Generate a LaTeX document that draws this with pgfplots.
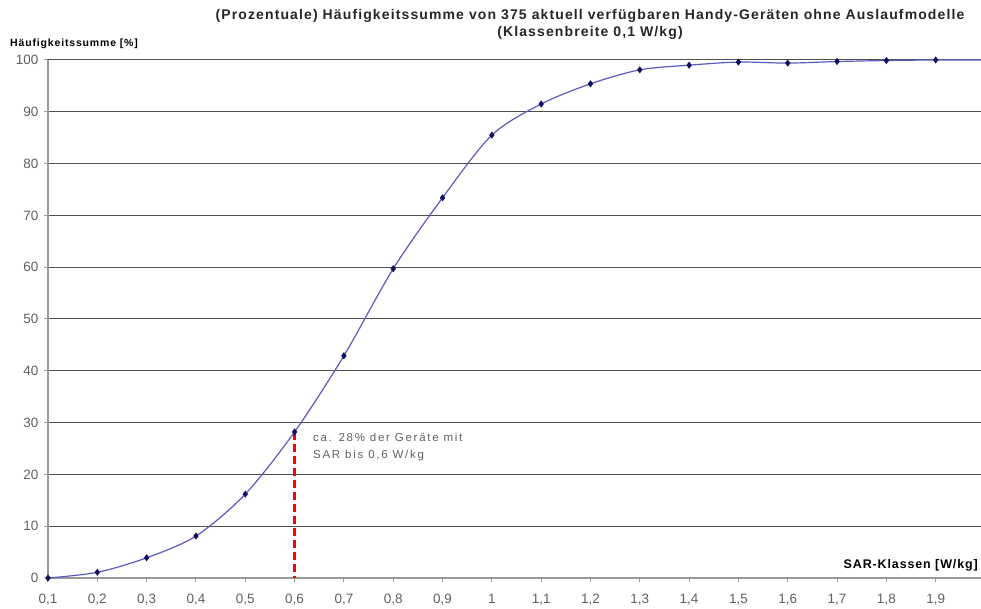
\documentclass[border=0pt]{standalone}
\usepackage{pgfplots}
\pgfplotsset{compat=1.18}
\usepackage{fontspec}
\setmainfont{Liberation Sans}
\newfontfamily\wideA[LetterSpace=8]{Liberation Sans}
\newfontfamily\wideB[LetterSpace=8]{Liberation Sans}
\newfontfamily\wideX[LetterSpace=7]{Liberation Sans}
\newfontfamily\wideC[LetterSpace=15]{Liberation Sans}
\definecolor{gridc}{HTML}{505050}
\definecolor{axc}{HTML}{9A9A9A}
\definecolor{linec}{HTML}{5A5AC0}
\definecolor{markc}{HTML}{101060}
\definecolor{tickc}{HTML}{606060}
\begin{document}
\begin{tikzpicture}[x=1pt,y=1pt]
\clip (-48,-31) rectangle (933,578);
\begin{axis}[
  at={(0,0)}, anchor=south west,
  scale only axis, width=937pt, height=518pt,
  xmin=0.1, xmax=2.0, ymin=0, ymax=100,
  xtick={0.1,0.2,0.3,0.4,0.5,0.6,0.7,0.8,0.9,1.0,1.1,1.2,1.3,1.4,1.5,1.6,1.7,1.8,1.9,2.0},
  ytick={0,10,...,100},
  ymajorgrids, major grid style={gridc, line width=1pt},
  axis x line*=bottom, axis y line*=left,
  axis line style={axc, line width=2pt, -},
  tick style={axc, line width=1pt},
  tick align=outside, major tick length=4pt,
  /pgf/number format/use comma,
  /pgf/number format/assume math mode=true,
  ticklabel style={font=\fontsize{13.5}{15}\selectfont, text=tickc},
  xticklabel style={yshift=-9pt},
  yticklabel style={xshift=-2pt},
  clip=false,
]
\addplot[linec, line width=1.2pt, smooth, tension=0.5, mark=diamond*, mark size=2.6pt,
  mark options={fill=markc, draw=markc}] coordinates {
  (0.1,0) (0.2,1.1) (0.3,3.9) (0.4,8.1) (0.5,16.2) (0.6,28.2) (0.7,42.9)
  (0.8,59.7) (0.9,73.4) (1.0,85.5) (1.1,91.5) (1.2,95.4) (1.3,98.1)
  (1.4,99.0) (1.5,99.6) (1.6,99.4) (1.7,99.7) (1.8,99.9) (1.9,100) (2.0,100)
};
\addplot[red, line width=2.6pt, dash pattern=on 8pt off 4pt] coordinates {(0.6,28.2) (0.6,0)};
\end{axis}
\node[font=\wideA\fontsize{14}{16}\selectfont\bfseries, text=black!85] at (542,562) {(Prozentuale) Häufigkeitssumme von 375 aktuell verfügbaren Handy-Geräten ohne Auslaufmodelle};
\node[font=\wideA\fontsize{14}{16}\selectfont\bfseries, text=black!85] at (542,545) {(Klassenbreite 0,1 W/kg)};
\node[anchor=west, inner sep=0pt, font=\wideB\fontsize{10.5}{11}\selectfont\bfseries] at (-38,534) {Häufigkeitssumme [\%]};
\node[anchor=east, inner sep=0pt, font=\wideX\fontsize{12.5}{12}\selectfont\bfseries] at (930,13) {SAR-Klassen [W/kg]};
\node[anchor=north west, inner sep=0pt, align=left, text=tickc, font=\wideC\fontsize{11.5}{17}\selectfont] at (265,145) {ca. 28\% der Geräte mit\\SAR bis 0,6 W/kg};
\end{tikzpicture}
\end{document}
